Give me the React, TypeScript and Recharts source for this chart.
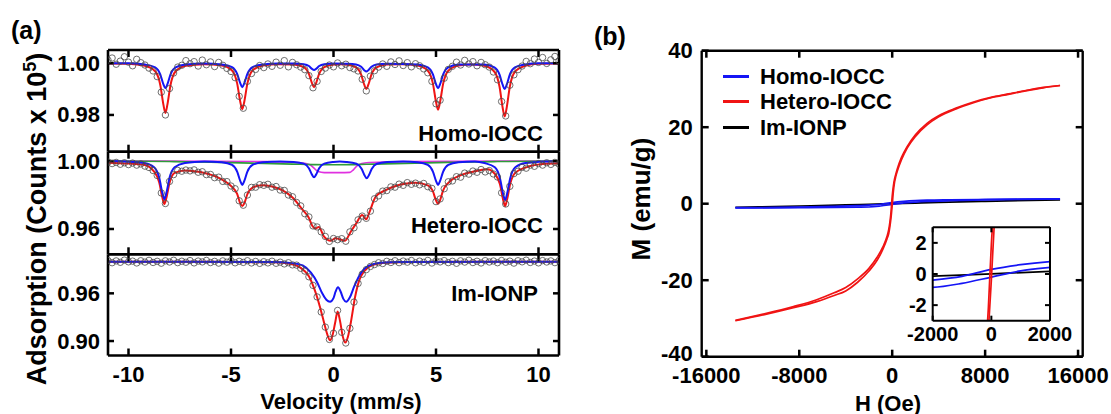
import React from 'react';
import { ComposedChart, Line, Scatter, XAxis, YAxis, Legend, CartesianGrid, ReferenceLine } from 'recharts';

const FONT = '"Liberation Sans", Arial, Helvetica, sans-serif';
const BLUE = '#1515f5';
const RED = '#f01414';
const BLACK = '#000000';
const GREEN = '#2f9a3a';
const MAGENTA = '#e030e0';
const CIRCLE = '#4a4a4a';

// ---------- Panel (a): Mossbauer spectra ----------
const VELOCITY = [
  -11.0, -10.8, -10.6, -10.4, -10.2, -10.0, -9.8, -9.6, -9.4, -9.2,
  -9.0, -8.8, -8.6, -8.4, -8.2, -8.0, -7.8, -7.6, -7.4, -7.2,
  -7.0, -6.8, -6.6, -6.4, -6.2, -6.0, -5.8, -5.6, -5.4, -5.2,
  -5.0, -4.8, -4.6, -4.4, -4.2, -4.0, -3.8, -3.6, -3.4, -3.2,
  -3.0, -2.8, -2.6, -2.4, -2.2, -2.0, -1.8, -1.6, -1.4, -1.2,
  -1.0, -0.8, -0.6, -0.4, -0.2, 0.0, 0.2, 0.4, 0.6, 0.8,
  1.0, 1.2, 1.4, 1.6, 1.8, 2.0, 2.2, 2.4, 2.6, 2.8,
  3.0, 3.2, 3.4, 3.6, 3.8, 4.0, 4.2, 4.4, 4.6, 4.8,
  5.0, 5.2, 5.4, 5.6, 5.8, 6.0, 6.2, 6.4, 6.6, 6.8,
  7.0, 7.2, 7.4, 7.6, 7.8, 8.0, 8.2, 8.4, 8.6, 8.8,
  9.0, 9.2, 9.4, 9.6, 9.8, 10.0, 10.2, 10.4, 10.6, 10.8,
  11.0,
];

const HOMO_COUNTS = [
  1.0012, 1.0020, 0.9996, 1.0008, 1.0025, 1.0004, 0.9990, 1.0015, 1.0002, 0.9993,
  0.9981, 0.9970, 0.9948, 0.9888, 0.9800, 0.9902, 0.9962, 0.9985, 0.9992, 1.0010,
  0.9998, 1.0006, 0.9989, 1.0012, 0.9994, 1.0005, 0.9987, 1.0003, 0.9992, 0.9980,
  0.9968, 0.9944, 0.9872, 0.9826, 0.9930, 0.9960, 0.9976, 0.9991, 0.9983, 0.9997,
  0.9988, 1.0004, 0.9992, 1.0010, 0.9986, 1.0003, 0.9994, 0.9985, 0.9975, 0.9952,
  0.9905, 0.9930, 0.9968, 0.9981, 0.9993, 0.9986, 1.0001, 0.9990, 0.9996, 0.9983,
  0.9978, 0.9970, 0.9938, 0.9893, 0.9950, 0.9971, 0.9985, 0.9997, 0.9988, 1.0005,
  0.9995, 1.0009, 0.9991, 1.0002, 0.9986, 0.9998, 0.9990, 0.9978, 0.9963, 0.9930,
  0.9843, 0.9857, 0.9942, 0.9976, 0.9988, 1.0004, 0.9993, 1.0011, 0.9997, 1.0006,
  0.9990, 1.0003, 0.9994, 0.9985, 0.9966, 0.9936, 0.9852, 0.9796, 0.9915, 0.9955,
  0.9975, 0.9989, 1.0007, 0.9998, 1.0016, 1.0003, 1.0022, 0.9999, 1.0013, 1.0026,
  1.0009,
];

const HETERO_COUNTS = [
  0.9994, 0.9985, 0.9992, 0.9981, 0.9990, 0.9979, 0.9988, 0.9976, 0.9983, 0.9970,
  0.9962, 0.9944, 0.9915, 0.9812, 0.9750, 0.9880, 0.9920, 0.9945, 0.9940, 0.9947,
  0.9942, 0.9948, 0.9934, 0.9937, 0.9920, 0.9921, 0.9902, 0.9905, 0.9880, 0.9879,
  0.9853, 0.9837, 0.9766, 0.9740, 0.9800, 0.9845, 0.9846, 0.9861, 0.9857, 0.9863,
  0.9846, 0.9850, 0.9829, 0.9827, 0.9800, 0.9790, 0.9756, 0.9736, 0.9690, 0.9671,
  0.9618, 0.9612, 0.9583, 0.9556, 0.9527, 0.9544, 0.9537, 0.9543, 0.9528, 0.9583,
  0.9607, 0.9654, 0.9676, 0.9663, 0.9705, 0.9778, 0.9795, 0.9823, 0.9826, 0.9848,
  0.9846, 0.9864, 0.9857, 0.9873, 0.9863, 0.9870, 0.9860, 0.9868, 0.9849, 0.9839,
  0.9761, 0.9777, 0.9837, 0.9878, 0.9883, 0.9908, 0.9905, 0.9929, 0.9923, 0.9941,
  0.9934, 0.9950, 0.9936, 0.9944, 0.9924, 0.9906, 0.9813, 0.9747, 0.9851, 0.9926,
  0.9940, 0.9963, 0.9958, 0.9976, 0.9969, 0.9985, 0.9976, 0.9990, 0.9980, 0.9992,
  0.9982,
];

const IONP_COUNTS = [
  1.0012, 0.9985, 1.0008, 0.9990, 1.0018, 0.9996, 1.0005, 0.9982, 1.0010, 0.9993,
  1.0015, 0.9988, 1.0003, 0.9979, 1.0009, 0.9994, 1.0016, 0.9986, 1.0004, 0.9991,
  1.0012, 0.9983, 1.0006, 0.9995, 1.0014, 0.9987, 1.0002, 0.9980, 1.0008, 0.9992,
  1.0011, 0.9984, 1.0003, 0.9989, 1.0010, 0.9982, 1.0001, 0.9977, 0.9998, 0.9983,
  1.0004, 0.9978, 0.9992, 0.9970, 0.9985, 0.9958, 0.9955, 0.9915, 0.9880, 0.9808,
  0.9700, 0.9555, 0.9365, 0.9175, 0.9020, 0.9098, 0.9385, 0.9110, 0.8975, 0.9160,
  0.9490, 0.9725, 0.9840, 0.9898, 0.9938, 0.9962, 0.9985, 0.9975, 1.0003, 0.9988,
  1.0010, 0.9986, 1.0006, 0.9992, 1.0013, 0.9984, 1.0005, 0.9990, 1.0014, 0.9981,
  1.0007, 0.9995, 1.0012, 0.9986, 1.0003, 0.9978, 1.0009, 0.9993, 1.0016, 0.9987,
  1.0004, 0.9982, 1.0011, 0.9994, 1.0007, 0.9985, 1.0013, 0.9991, 1.0005, 0.9980,
  1.0010, 0.9996, 1.0017, 0.9988, 1.0006, 0.9983, 1.0012, 0.9994, 1.0008, 0.9986,
  1.0011,
];

const HOMO_FIT_TOTAL: [number, number][] = [
  [-11, 0.9999], [-10, 0.9998], [-9.2, 0.9990], [-8.7, 0.9969], [-8.45, 0.9916], [-8.3, 0.9841], [-8.2, 0.9808],
  [-8.1, 0.9841], [-7.95, 0.9916], [-7.7, 0.9969], [-7.2, 0.9990], [-6.3, 0.9996], [-5.45, 0.9991], [-4.95, 0.9972],
  [-4.7, 0.9922], [-4.55, 0.9852], [-4.45, 0.9822], [-4.35, 0.9852], [-4.2, 0.9922], [-3.95, 0.9972], [-3.45, 0.9991],
  [-2.7, 0.9996], [-1.95, 0.9995], [-1.45, 0.9985], [-1.2, 0.9959], [-1.05, 0.9923], [-0.95, 0.9907], [-0.85, 0.9923],
  [-0.7, 0.9959], [-0.45, 0.9985], [0.05, 0.9995], [0.35, 0.9996], [0.6, 0.9995], [1.1, 0.9984], [1.35, 0.9956],
  [1.5, 0.9917], [1.6, 0.9900], [1.7, 0.9917], [1.85, 0.9956], [2.1, 0.9984], [2.6, 0.9995], [3.35, 0.9996],
  [4.1, 0.9991], [4.6, 0.9971], [4.85, 0.9921], [5.0, 0.9851], [5.1, 0.9820], [5.2, 0.9851], [5.35, 0.9921],
  [5.6, 0.9971], [6.1, 0.9991], [6.7, 0.9995], [7.35, 0.9990], [7.85, 0.9967], [8.1, 0.9909], [8.25, 0.9829],
  [8.35, 0.9794], [8.45, 0.9829], [8.6, 0.9909], [8.85, 0.9967], [9.35, 0.9990], [10, 0.9998], [11, 0.9999],
];

const HOMO_FIT_SUB: [number, number][] = [
  [-11, 1.0], [-10, 1.0], [-9.2, 0.9995], [-8.7, 0.9984], [-8.45, 0.9957], [-8.3, 0.9919], [-8.2, 0.9903],
  [-8.1, 0.9919], [-7.95, 0.9957], [-7.7, 0.9984], [-7.2, 0.9995], [-6.3, 0.9999], [-5.45, 0.9995], [-4.95, 0.9985],
  [-4.7, 0.9959], [-4.55, 0.9923], [-4.45, 0.9907], [-4.35, 0.9923], [-4.2, 0.9959], [-3.95, 0.9985], [-3.45, 0.9995],
  [-2.7, 0.9999], [-1.95, 0.9999], [-1.45, 0.9996], [-1.2, 0.9989], [-1.05, 0.9978], [-0.95, 0.9974], [-0.85, 0.9978],
  [-0.7, 0.9989], [-0.45, 0.9996], [0.05, 0.9999], [0.6, 0.9998], [1.1, 0.9995], [1.35, 0.9986], [1.5, 0.9973],
  [1.6, 0.9968], [1.7, 0.9973], [1.85, 0.9986], [2.1, 0.9995], [2.6, 0.9998], [4.1, 0.9995], [4.6, 0.9984],
  [4.85, 0.9957], [5.0, 0.9919], [5.1, 0.9903], [5.2, 0.9919], [5.35, 0.9957], [5.6, 0.9984], [6.1, 0.9995],
  [7.35, 0.9995], [7.85, 0.9984], [8.1, 0.9956], [8.25, 0.9917], [8.35, 0.9900], [8.45, 0.9917], [8.6, 0.9956],
  [8.85, 0.9984], [9.35, 0.9995], [10, 1.0], [11, 1.0],
];

const HETERO_FIT_TOTAL: [number, number][] = [
  [-11, 0.9990], [-10, 0.9985], [-9.25, 0.9978], [-8.75, 0.9938], [-8.5, 0.9874], [-8.35, 0.9785], [-8.25, 0.9747],
  [-8.15, 0.9784], [-8.0, 0.9871], [-7.75, 0.9930], [-7.25, 0.9945], [-6.5, 0.9935], [-5.5, 0.9895], [-4.95, 0.9848],
  [-4.7, 0.9807], [-4.55, 0.9751], [-4.45, 0.9735], [-4.35, 0.9752], [-4.2, 0.9805], [-3.95, 0.9843], [-3.5, 0.9858],
  [-3.0, 0.9850], [-2.5, 0.9829], [-2.0, 0.9785], [-1.5, 0.9712], [-1.2, 0.9665], [-1.03, 0.9618], [-0.88, 0.9603],
  [-0.72, 0.9612], [-0.46, 0.9555], [-0.14, 0.9531], [0.1, 0.9545], [0.3, 0.9540], [0.56, 0.9531], [0.84, 0.9584],
  [1.11, 0.9633], [1.4, 0.9682], [1.6, 0.9657], [1.73, 0.9692], [2.06, 0.9790], [2.55, 0.9829], [3.0, 0.9852],
  [3.5, 0.9866], [4.0, 0.9872], [4.6, 0.9857], [4.85, 0.9821], [5.0, 0.9768], [5.1, 0.9748], [5.2, 0.9770],
  [5.35, 0.9828], [5.6, 0.9872], [6.1, 0.9911], [6.8, 0.9937], [7.5, 0.9952], [7.87, 0.9925], [8.12, 0.9863],
  [8.27, 0.9774], [8.37, 0.9735], [8.47, 0.9775], [8.62, 0.9866], [8.87, 0.9932], [9.4, 0.9963], [10.2, 0.9982],
  [11, 0.9987],
];

const HETERO_FIT_SEXTET: [number, number][] = [
  [-11, 1.0], [-9.25, 0.9989], [-8.75, 0.9964], [-8.5, 0.9901], [-8.35, 0.9813], [-8.25, 0.9775], [-8.15, 0.9813],
  [-8.0, 0.9901], [-7.75, 0.9964], [-7.25, 0.9989], [-6.3, 0.9998], [-5.45, 0.9993], [-4.95, 0.9977], [-4.7, 0.9938],
  [-4.55, 0.9883], [-4.45, 0.9859], [-4.35, 0.9883], [-4.2, 0.9938], [-3.95, 0.9977], [-3.45, 0.9993], [-2.6, 0.9998],
  [-1.95, 0.9995], [-1.45, 0.9985], [-1.2, 0.9958], [-1.05, 0.9920], [-0.95, 0.9904], [-0.85, 0.9920], [-0.7, 0.9958],
  [-0.45, 0.9985], [0.0, 0.9995], [0.3, 0.9997], [0.62, 0.9995], [1.12, 0.9984], [1.37, 0.9955], [1.52, 0.9915],
  [1.62, 0.9898], [1.72, 0.9915], [1.87, 0.9955], [2.12, 0.9984], [2.62, 0.9995], [3.4, 0.9998], [4.1, 0.9993],
  [4.6, 0.9977], [4.85, 0.9938], [5.0, 0.9883], [5.1, 0.9859], [5.2, 0.9883], [5.35, 0.9938], [5.6, 0.9977],
  [6.1, 0.9993], [6.9, 0.9998], [7.37, 0.9988], [7.87, 0.9963], [8.12, 0.9899], [8.27, 0.9809], [8.37, 0.9770],
  [8.47, 0.9809], [8.62, 0.9899], [8.87, 0.9963], [9.37, 0.9988], [11, 1.0],
];

const HETERO_FIT_DOUBLET: [number, number][] = [
  [-11, 1.0], [-6, 0.9999], [-3.5, 0.9997], [-2.5, 0.9995], [-1.6, 0.9990], [-1.15, 0.9978], [-0.95, 0.9958],
  [-0.75, 0.9938], [-0.45, 0.9932], [0.3, 0.9932], [0.8, 0.9933], [0.98, 0.9950], [1.2, 0.9977], [1.6, 0.9990],
  [2.6, 0.9995], [3.6, 0.9997], [6, 0.9999], [11, 1.0],
];

const HETERO_FIT_BROAD: [number, number][] = [
  [-11, 1.0], [-8, 0.9997], [-6, 0.9993], [-4, 0.9988], [-2, 0.9982], [-1, 0.9979], [0, 0.9978],
  [1, 0.9979], [2, 0.9982], [4, 0.9988], [6, 0.9993], [8, 0.9997], [11, 1.0],
];

const IONP_FIT_TOTAL: [number, number][] = [
  [-11, 0.9998], [-6, 0.9996], [-3, 0.9990], [-2.2, 0.9975], [-1.6, 0.9920], [-1.2, 0.9815], [-0.9, 0.9630],
  [-0.65, 0.9420], [-0.45, 0.9220], [-0.3, 0.9080], [-0.17, 0.9010], [-0.05, 0.9070], [0.08, 0.9230], [0.2, 0.9370],
  [0.32, 0.9250], [0.45, 0.9060], [0.58, 0.8980], [0.7, 0.9050], [0.85, 0.9240], [1.05, 0.9550], [1.25, 0.9760],
  [1.5, 0.9880], [1.9, 0.9955], [2.5, 0.9985], [4, 0.9995], [11, 0.9998],
];

const IONP_FIT_SUB: [number, number][] = [
  [-11, 0.9998], [-3, 0.9995], [-2, 0.9980], [-1.5, 0.9950], [-1.1, 0.9860], [-0.8, 0.9740], [-0.55, 0.9600],
  [-0.35, 0.9520], [-0.17, 0.9494], [0.0, 0.9540], [0.1, 0.9620], [0.22, 0.9675], [0.35, 0.9620], [0.48, 0.9530],
  [0.62, 0.9494], [0.8, 0.9550], [1.0, 0.9680], [1.3, 0.9840], [1.7, 0.9945], [2.3, 0.9985], [3.2, 0.9995],
  [11, 0.9998],
];

const VEL_TICKS = [-10, -5, 0, 5, 10];
const HOMO_TICKS = [0.98, 1.0];
const HETERO_TICKS = [0.96, 1.0];
const IONP_TICKS = [0.9, 0.96];

// ---------- Panel (b): M-H loops ----------
const HETERO_DESC: [number, number][] = [
  [-13500, -30.5], [-11000, -28.8], [-8500, -26.9], [-6500, -25.1], [-5000, -23.3], [-4000, -21.9], [-3000, -19.7],
  [-2000, -16.9], [-1300, -14.0], [-800, -11.3], [-450, -8.6], [-300, -6.8], [-200, -4.9], [-100, -2.1], [0, 1.9],
  [100, 4.6], [200, 6.4], [300, 7.6], [450, 9.2], [800, 12.1], [1300, 15.0], [2000, 18.0], [3000, 21.0],
  [4000, 23.0], [5500, 25.0], [7000, 26.6], [8500, 27.8], [10000, 28.7], [11500, 29.6], [13000, 30.4], [14450, 30.9],
];
const HETERO_ASC: [number, number][] = [
  [-13500, -30.6], [-11000, -29.0], [-8500, -27.2], [-6500, -25.6], [-5000, -24.0], [-4000, -22.8], [-3000, -20.6],
  [-2000, -17.6], [-1300, -14.8], [-800, -11.9], [-450, -9.2], [-300, -7.8], [-200, -6.0], [-100, -3.6], [0, -0.4],
  [100, 3.2], [200, 5.6], [300, 7.0], [450, 8.6], [800, 11.5], [1300, 14.6], [2000, 17.6], [3000, 20.6],
  [4000, 22.7], [5500, 24.8], [7000, 26.4], [8500, 27.7], [10000, 28.6], [11500, 29.5], [13000, 30.3], [14450, 30.9],
];
const HOMO_DESC: [number, number][] = [
  [-13500, -1.05], [-8000, -0.9], [-5000, -0.72], [-3000, -0.52], [-2000, -0.39], [-1000, -0.15], [0, 0.3],
  [1000, 0.6], [2000, 0.8], [3000, 0.92], [5000, 1.02], [8000, 1.12], [11000, 1.2], [14450, 1.28],
];
const HOMO_ASC: [number, number][] = [
  [-13500, -1.1], [-8000, -1.02], [-5000, -0.96], [-3000, -0.9], [-2000, -0.86], [-1000, -0.6], [0, -0.2],
  [1000, 0.2], [2000, 0.42], [3000, 0.58], [5000, 0.78], [8000, 0.98], [11000, 1.12], [14450, 1.25],
];
const IONP_MH: [number, number][] = [
  [-13500, -0.95], [-8000, -0.6], [-4000, -0.32], [-2000, -0.14], [0, 0.01], [2000, 0.17], [4000, 0.34],
  [8000, 0.62], [14450, 1.0],
];

const FIELD_TICKS = [-16000, -8000, 0, 8000, 16000];
const M_TICKS = [-40, -20, 0, 20, 40];
const INSET_FIELD_TICKS = [-2000, 0, 2000];
const INSET_M_TICKS = [-2, 0, 2];

const LEGEND_ITEMS = [
  { name: 'Homo-IOCC', color: BLUE },
  { name: 'Hetero-IOCC', color: RED },
  { name: 'Im-IONP', color: BLACK },
];

// ---------- helpers ----------
const pts = (xs: number[], ys: number[]) => xs.map((v, i) => ({ v, y: ys[i] }));
const pairs = (a: [number, number][]) => a.map(([v, y]) => ({ v, y }));

type Side = 'left' | 'right' | 'top' | 'bottom';

const tickLabel = (side: Side, show: boolean, size: number, digits: number, gap: number,
  lift: Record<string, number> = {}) =>
  (p: any) => {
    if (!show) return <g />;
    const x = Number(p.x);
    const y = Number(p.y);
    const val = p.payload ? p.payload.value : 0;
    const label = digits > 0 ? Number(val).toFixed(digits) : String(val);
    const dy = lift[String(val)] || 0;
    const tp = { fontFamily: FONT, fontWeight: 700, fontSize: size, fill: '#000000' };
    if (side === 'left') {
      return <text x={x - gap} y={y + dy} textAnchor="end" dominantBaseline="central" {...tp}>{label}</text>;
    }
    return <text x={x} y={y + gap} textAnchor="middle" dominantBaseline="central" {...tp}>{label}</text>;
  };

const axisBase = {
  tickLine: false,
  tickSize: 0,
  tickMargin: 0,
  interval: 0 as const,
  allowDataOverflow: true,
  type: 'number' as const,
};

// Inward tick marks on all four sides, drawn as short reference segments at the tick values
function tickSegments(key: string, xTicks: number[], yTicks: number[], xDom: [number, number], yDom: [number, number],
  fx: number, fy: number, sw: number) {
  const dx = (xDom[1] - xDom[0]) * fx;
  const dy = (yDom[1] - yDom[0]) * fy;
  const st = { stroke: '#000000', strokeWidth: sw };
  const out: any[] = [];
  xTicks.forEach((t) => {
    out.push(<ReferenceLine key={`${key}xb${t}`} segment={[{ x: t, y: yDom[0] }, { x: t, y: yDom[0] + dy }]} ifOverflow="visible" {...st} />);
    out.push(<ReferenceLine key={`${key}xt${t}`} segment={[{ x: t, y: yDom[1] }, { x: t, y: yDom[1] - dy }]} ifOverflow="visible" {...st} />);
  });
  yTicks.forEach((t) => {
    out.push(<ReferenceLine key={`${key}yl${t}`} segment={[{ x: xDom[0], y: t }, { x: xDom[0] + dx, y: t }]} ifOverflow="visible" {...st} />);
    out.push(<ReferenceLine key={`${key}yr${t}`} segment={[{ x: xDom[1], y: t }, { x: xDom[1] - dx, y: t }]} ifOverflow="visible" {...st} />);
  });
  return out;
}

const circleShape = (p: any) => (
  <circle cx={p.cx} cy={p.cy} r={3.2} fill="none" stroke={CIRCLE} strokeWidth={0.8} />
);

type Fit = { data: [number, number][]; color: string; w: number };

// axes take 1px each (a zero-size axis is not drawn), margins are reduced by 1 to compensate
function MossPanel(props: {
  id: string; top: number; height: number; mTop: number; mBottom: number; domain: [number, number];
  yTicks: number[]; counts: number[]; fits: Fit[]; showX: boolean;
}) {
  const { id, top, height, mTop, mBottom, domain, yTicks, counts, fits, showX } = props;
  const axis = { stroke: '#000', strokeWidth: 2.6 };
  const plotH = height - mTop - mBottom;
  return (
    <div style={{ position: 'absolute', left: 0, top }}>
      <ComposedChart width={570} height={height} margin={{ top: mTop - 1, right: 10, bottom: mBottom - 1, left: 107 }}>
        <Scatter data={pts(VELOCITY, counts)} dataKey="y" shape={circleShape} isAnimationActive={false} />
        {fits.map((f, i) => (
          <Line key={i} data={pairs(f.data)} dataKey="y" type="monotone" stroke={f.color} strokeWidth={f.w}
            dot={false} activeDot={false} isAnimationActive={false} />
        ))}
        <XAxis dataKey="v" domain={[-11, 11]} ticks={VEL_TICKS} height={1} orientation="bottom" axisLine={axis}
          {...axisBase} tick={tickLabel('bottom', showX, 22, 0, 19)} />
        <XAxis xAxisId="top" dataKey="v" domain={[-11, 11]} ticks={VEL_TICKS} height={1} orientation="top"
          axisLine={axis} {...axisBase} tick={tickLabel('top', false, 22, 0, 0)} />
        <YAxis domain={domain} ticks={yTicks} width={1} orientation="left" axisLine={axis}
          {...axisBase} tick={tickLabel('left', true, 22, 2, 8)} />
        <YAxis yAxisId="right" domain={domain} ticks={yTicks} width={1} orientation="right" axisLine={axis}
          {...axisBase} tick={tickLabel('right', false, 22, 2, 0)} />
        {tickSegments(id, VEL_TICKS, yTicks, [-11, 11], domain, 6 / 451, 7 / plotH, 2.5)}
      </ComposedChart>
    </div>
  );
}

function LegendBox() {
  return (
    <div style={{ fontFamily: FONT, fontWeight: 700, fontSize: 22, color: '#000' }}>
      {LEGEND_ITEMS.map((it) => (
        <div key={it.name} style={{ display: 'flex', alignItems: 'center', height: 25.3 }}>
          <span style={{ display: 'inline-block', width: 26, height: 3, background: it.color, marginLeft: 3 }} />
          <span style={{ marginLeft: 11, lineHeight: '25px' }}>{it.name}</span>
        </div>
      ))}
    </div>
  );
}

function MagnetPanel() {
  const axis = { stroke: '#000', strokeWidth: 2.4 };
  const series: { data: [number, number][]; color: string }[] = [
    { data: IONP_MH, color: BLACK },
    { data: HOMO_DESC, color: BLUE },
    { data: HOMO_ASC, color: BLUE },
    { data: HETERO_DESC, color: RED },
    { data: HETERO_ASC, color: RED },
  ];
  return (
    <div style={{ position: 'absolute', left: 600, top: 0 }}>
      <ComposedChart width={511} height={414} margin={{ top: 49.7, right: 27.3, bottom: 56.3, left: 100.7 }}>
        {series.map((s, i) => (
          <Line key={i} data={pairs(s.data)} dataKey="y" type="monotone" stroke={s.color} strokeWidth={1.7}
            dot={false} activeDot={false} isAnimationActive={false} legendType="none" />
        ))}
        <XAxis dataKey="v" domain={[-16400, 16400]} ticks={FIELD_TICKS} height={1} orientation="bottom" axisLine={axis}
          {...axisBase} tick={tickLabel('bottom', true, 22, 0, 19)} />
        <XAxis xAxisId="top" dataKey="v" domain={[-16400, 16400]} ticks={FIELD_TICKS} height={1} orientation="top"
          axisLine={axis} {...axisBase} tick={tickLabel('top', false, 22, 0, 0)} />
        <YAxis domain={[-40, 40]} ticks={M_TICKS} width={1} orientation="left" axisLine={axis}
          {...axisBase} tick={tickLabel('left', true, 22, 0, 9, { '-40': -3 })} />
        <YAxis yAxisId="right" domain={[-40, 40]} ticks={M_TICKS} width={1} orientation="right" axisLine={axis}
          {...axisBase} tick={tickLabel('right', false, 22, 0, 0)} />
        {tickSegments('mh', FIELD_TICKS, M_TICKS, [-16400, 16400], [-40, 40], 7 / 381, 7 / 306, 2.5)}
        <Legend layout="vertical" align="center" verticalAlign="middle"
          wrapperStyle={{ position: 'absolute', left: 120, top: 64, width: 230, height: 80 }}
          content={() => <LegendBox />} />
      </ComposedChart>
    </div>
  );
}

function InsetPanel() {
  const axis = { stroke: '#000', strokeWidth: 2 };
  const series: { data: [number, number][]; color: string }[] = [
    { data: IONP_MH, color: BLACK },
    { data: HOMO_DESC, color: BLUE },
    { data: HOMO_ASC, color: BLUE },
    { data: HETERO_DESC, color: RED },
    { data: HETERO_ASC, color: RED },
  ];
  return (
    <div style={{ position: 'absolute', left: 880, top: 210 }}>
      <ComposedChart width={200} height={140} margin={{ top: 16.3, right: 29, bottom: 28.3, left: 51.7 }}>
        <CartesianGrid horizontal={false} vertical={false} fill="#ffffff" fillOpacity={1} />
        {series.map((s, i) => (
          <Line key={i} data={pairs(s.data)} dataKey="y" type="monotone" stroke={s.color} strokeWidth={1.7}
            dot={false} activeDot={false} isAnimationActive={false} />
        ))}
        <XAxis dataKey="v" domain={[-2000, 2000]} ticks={INSET_FIELD_TICKS} height={1} orientation="bottom"
          axisLine={axis} {...axisBase} tick={tickLabel('bottom', true, 20, 0, 13)} />
        <XAxis xAxisId="top" dataKey="v" domain={[-2000, 2000]} ticks={INSET_FIELD_TICKS} height={1} orientation="top"
          axisLine={axis} {...axisBase} tick={tickLabel('top', false, 20, 0, 0)} />
        <YAxis domain={[-3, 3]} ticks={INSET_M_TICKS} width={1} orientation="left" axisLine={axis}
          {...axisBase} tick={tickLabel('left', true, 20, 0, 6)} />
        <YAxis yAxisId="right" domain={[-3, 3]} ticks={INSET_M_TICKS} width={1} orientation="right" axisLine={axis}
          {...axisBase} tick={tickLabel('right', false, 20, 0, 0)} />
        {tickSegments('in', INSET_FIELD_TICKS, INSET_M_TICKS, [-2000, 2000], [-3, 3], 5 / 117, 5 / 93, 2)}
      </ComposedChart>
    </div>
  );
}

export default function App() {
  const t = { fontFamily: FONT, fontWeight: 700, fill: '#000' } as const;
  return (
    <div style={{ position: 'absolute', left: 0, top: 0, width: 1111, height: 414, background: '#fff', overflow: 'hidden' }}>
      <MossPanel id="homo" top={0} height={160} mTop={50} mBottom={8.3} domain={[0.9658, 1.0051]} yTicks={HOMO_TICKS}
        counts={HOMO_COUNTS} showX={false}
        fits={[{ data: HOMO_FIT_TOTAL, color: RED, w: 2 }, { data: HOMO_FIT_SUB, color: BLUE, w: 2 }]} />
      <MossPanel id="het" top={140} height={125} mTop={11.7} mBottom={10.7} domain={[0.9451, 1.0055]} yTicks={HETERO_TICKS}
        counts={HETERO_COUNTS} showX={false}
        fits={[
          { data: HETERO_FIT_TOTAL, color: RED, w: 2 },
          { data: HETERO_FIT_DOUBLET, color: MAGENTA, w: 1.6 },
          { data: HETERO_FIT_BROAD, color: GREEN, w: 1.6 },
          { data: HETERO_FIT_SEXTET, color: BLUE, w: 2 },
        ]} />
      <MossPanel id="ionp" top={240} height={174} mTop={14.3} mBottom={58.5} domain={[0.8818, 1.0091]} yTicks={IONP_TICKS}
        counts={IONP_COUNTS} showX={true}
        fits={[{ data: IONP_FIT_TOTAL, color: RED, w: 2 }, { data: IONP_FIT_SUB, color: BLUE, w: 2 }]} />
      <MagnetPanel />
      <InsetPanel />
      <svg width={1111} height={414} style={{ position: 'absolute', left: 0, top: 0, pointerEvents: 'none' }}>
        <text x={11} y={39} fontSize={25} {...t}>(a)</text>
        <text x={594} y={45} fontSize={25} {...t}>(b)</text>
        <text transform="translate(46,219) rotate(-90)" textAnchor="middle" fontSize={27} {...t}>
          Adsorption (Counts x 10<tspan dy={-10} fontSize={18}>5</tspan><tspan dy={10}>)</tspan>
        </text>
        <text x={543} y={133} textAnchor="end" dominantBaseline="central" fontSize={22} {...t}>Homo-IOCC</text>
        <text x={543} y={225} textAnchor="end" dominantBaseline="central" fontSize={22} {...t}>Hetero-IOCC</text>
        <text x={538} y={293} textAnchor="end" dominantBaseline="central" fontSize={22} {...t}>Im-IONP</text>
        <text x={341} y={401} textAnchor="middle" dominantBaseline="central" fontSize={22} {...t}>Velocity (mm/s)</text>
        <text x={888} y={403} textAnchor="middle" dominantBaseline="central" fontSize={22} {...t}>H (Oe)</text>
        <text transform="translate(650,199) rotate(-90)" textAnchor="middle" fontSize={26} {...t}>M (emu/g)</text>
      </svg>
    </div>
  );
}
